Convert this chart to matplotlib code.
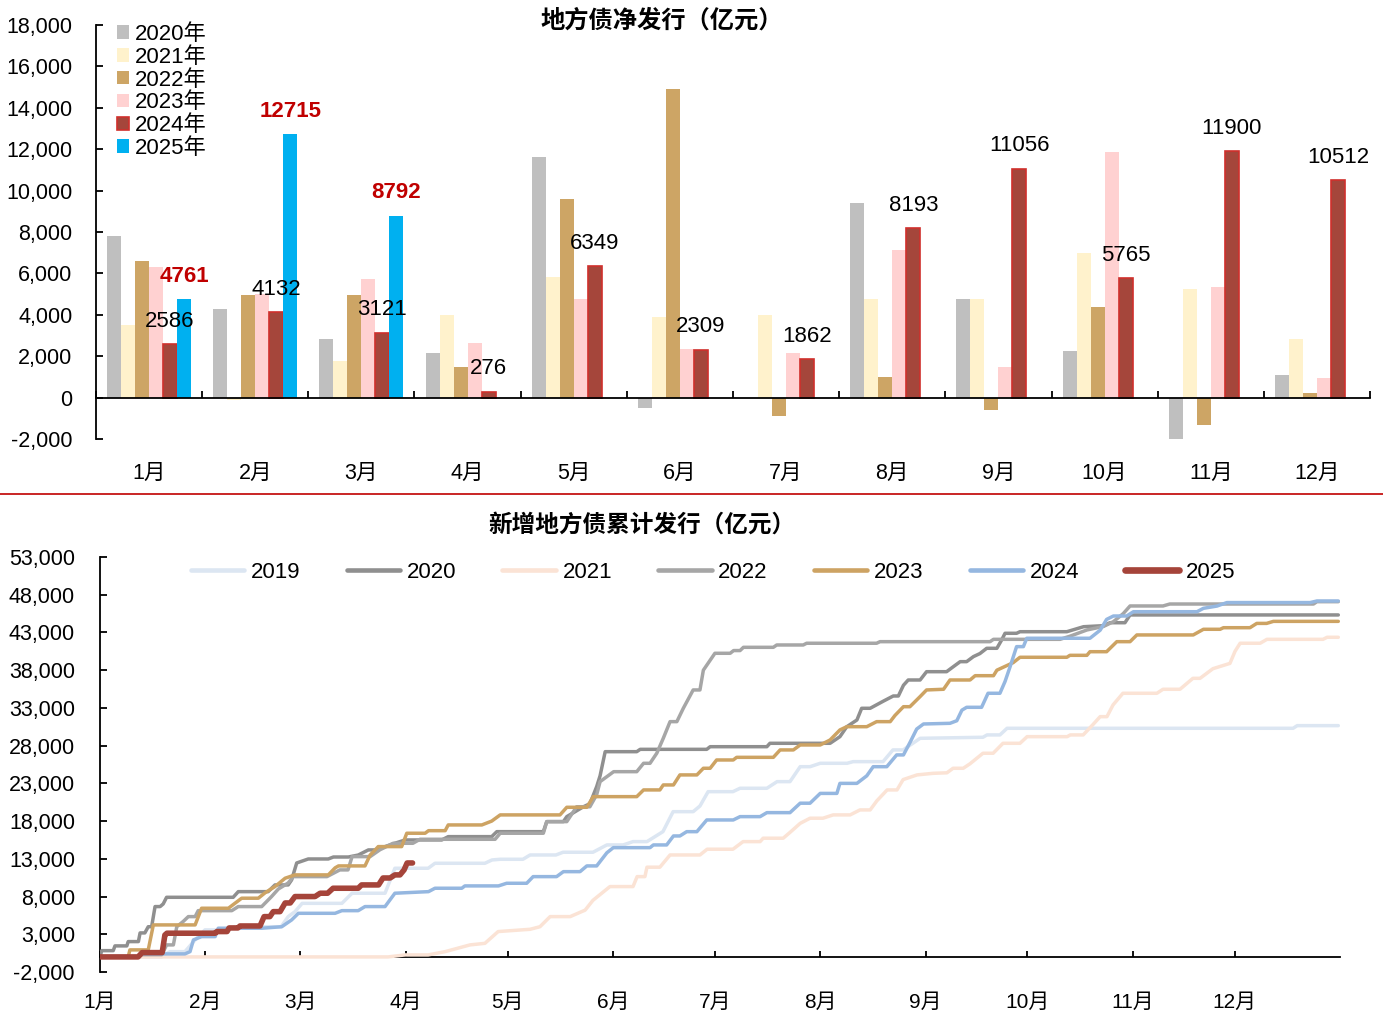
import numpy as np
import matplotlib.pyplot as plt
from matplotlib.ticker import FuncFormatter
from matplotlib.lines import Line2D

plt.rcParams['font.family'] = ['Liberation Sans', 'Noto Sans CJK SC']
plt.rcParams['axes.unicode_minus'] = False

# ---- данные: верхний график (чистый выпуск) ----
months = ['1月', '2月', '3月', '4月', '5月', '6月', '7月', '8月', '9月', '10月', '11月', '12月']
bar_2020 = [7800, 4300, 2850, 2170, 11640, -480, 0, 9420, 4780, 2270, -2050, 1110]
bar_2021 = [3530, -100, 1790, 4010, 5850, 3910, 4010, 4780, 4780, 7000, 5270, 2850]
bar_2022 = [6620, 4980, 4980, 1500, 9610, 14930, -870, 1010, -580, 4400, -1300, 240]
bar_2023 = [6330, 5000, 5750, 2660, 4780, 2370, 2170, 7150, 1500, 11880, 5360, 970]
bar_2024 = [2586, 4132, 3121, 276, 6349, 2309, 1862, 8193, 11056, 5765, 11900, 10512]
bar_2025 = [4761, 12715, 8792]

# ---- данные: нижний график (накопленный выпуск), (день года, значение) ----
pts_2019 = [(0, 0), (18.2, 0), (19.1, 300), (20.6, 700), (25, 700), (28, 2250), (30.9, 3580), (37.7, 3580),
            (39.7, 4000), (53.3, 4000), (55.4, 5340), (57.4, 6000), (59.5, 7100), (71.2, 7100), (74.2, 8440),
            (83.9, 8440), (86.8, 11750), (96.6, 11750), (98.6, 12410), (113.3, 12410), (115.4, 12850),
            (117.8, 12940), (124.5, 12940), (126.6, 13510), (134.2, 13510), (136.3, 13870), (145.1, 13870),
            (149.2, 14840), (154, 14840), (156.9, 15280), (161, 15280), (165.7, 16600), (168.7, 19250),
            (174.6, 19250), (176.6, 20000), (179, 21900), (186.3, 21900), (188.4, 22350), (196.3, 22350),
            (199.3, 23230), (203.1, 23230), (206.1, 25210), (209, 25210), (212, 25660), (219.9, 25660),
            (221.7, 25880), (230.5, 25880), (233.4, 27430), (236.4, 27430), (241.4, 28970), (259.9, 29110),
            (261.1, 29420), (264.9, 29420), (267, 30300), (351.2, 30300), (352.4, 30650), (364.5, 30650)]
pts_2020 = [(0, 0), (0.5, 830), (3.9, 830), (4.4, 1460), (7.9, 1460), (8.3, 2030), (11.3, 2030), (11.8, 3180),
            (13.2, 3180), (14.2, 4000), (15.2, 4000), (16.2, 6670), (17.7, 6670), (18.6, 7020), (19.6, 7900),
            (39.2, 7900), (40.7, 8650), (49.5, 8650), (51.5, 9540), (55.4, 9540), (56.4, 10200), (57.9, 12450),
            (61.3, 12980), (67.2, 12980), (68.7, 13240), (73.1, 13240), (76, 13500), (79, 14180), (81, 14180),
            (86.8, 15060), (89.8, 15500), (100.6, 15500), (102.5, 15940), (115.3, 15940), (116.8, 16600),
            (130.5, 16600), (131.5, 17930), (136.4, 17930), (137.4, 18590), (142.3, 19900), (144.2, 20300),
            (146.2, 22570), (147.2, 24000), (148.7, 27200), (158, 27200), (159, 27510), (178.6, 27510),
            (179.6, 27860), (196.3, 27860), (197.2, 28310), (214.9, 28310), (217.8, 29190), (219.8, 30500),
            (222.8, 31400), (224.2, 32950), (226.7, 32950), (230.6, 33900), (233.5, 34580), (235, 34580),
            (236.5, 36000), (237.9, 36700), (241.4, 36700), (243.3, 37800), (249.2, 37800), (251.2, 38470),
            (253.2, 39130), (255.1, 39130), (257.1, 39800), (259, 40200), (261, 40900), (264, 40900),
            (265.4, 42000), (266.4, 42890), (269.8, 42890), (270.8, 43100), (284.6, 43100), (289.5, 43760),
            (295.4, 43900), (297.3, 44290), (301.7, 44290), (303.2, 45320), (364.5, 45320)]
pts_2021 = [(0, 0), (84.8, 0), (89.8, 265), (96.6, 265), (101.6, 700), (108.9, 1590), (113.3, 1800),
            (117.2, 3360), (126.6, 3660), (129.5, 4000), (132.5, 5340), (138.4, 5340), (142.8, 6200),
            (145.1, 7500), (150.1, 9320), (156.9, 9320), (158.1, 10640), (160.4, 10640), (161, 11890),
            (164.8, 11890), (167.8, 13510), (176.6, 13510), (178.7, 14270), (186.3, 14270), (189.3, 15280),
            (194.3, 15280), (195.2, 15730), (201.1, 15730), (203.1, 16500), (206.1, 17700), (209, 18380),
            (212.8, 18380), (215.8, 18820), (220.8, 18820), (223.7, 19480), (226.7, 19480), (228.7, 20700),
            (231.7, 22130), (234.6, 22130), (236.4, 23500), (240.5, 24120), (245.2, 24330), (249.3, 24400),
            (251.1, 25000), (254.1, 25000), (256.1, 25600), (259.9, 26990), (262.9, 26990), (265.8, 28310),
            (270.8, 28310), (272.9, 29190), (284.7, 29190), (285.6, 29420), (289.4, 29420), (292.3, 30800),
            (294.4, 31840), (296.4, 31840), (298.2, 33400), (301.1, 34940), (311.1, 34940), (312.9, 35470),
            (317.9, 35470), (321.7, 36920), (323.8, 36920), (327.6, 38200), (332.6, 38900), (334.1, 40500),
            (335.6, 41570), (341.5, 41570), (343.5, 42090), (360, 42090), (361.2, 42360), (364.5, 42360)]
pts_2022 = [(0, 0), (11.3, 0), (12.3, 300), (18.2, 300), (19.6, 1590), (21.6, 1590), (22.6, 4000),
            (24.5, 4700), (26, 5340), (28, 5340), (28.9, 6130), (38.8, 6130), (40.7, 6670), (47.6, 6670),
            (50.5, 8000), (52.5, 9000), (55.4, 9800), (56.9, 10640), (66.8, 10640), (70.6, 11530), (73, 11530),
            (74.2, 13290), (79.5, 13290), (82.4, 14200), (86.3, 15060), (92.1, 15060), (94.2, 15590),
            (116.3, 15590), (117.8, 16390), (130.5, 16390), (131.5, 17930), (137.4, 17930), (140.3, 19900),
            (144.2, 19900), (146.2, 21500), (147.2, 23230), (151.2, 24550), (158, 24550), (160, 25660),
            (161.9, 25660), (163.9, 27000), (165.8, 28970), (167.8, 31180), (169.8, 31180), (171.7, 32950),
            (174.6, 35380), (176.6, 35380), (177.6, 38000), (181, 40240), (185.5, 40240), (186.5, 40600),
            (188.4, 40600), (189.4, 41030), (198.2, 41030), (199.2, 41340), (207, 41340), (208, 41570),
            (228.6, 41570), (229.6, 41780), (262, 41780), (263, 42090), (282.6, 42090), (285.5, 42500),
            (290.5, 43330), (295.4, 43800), (298.3, 44430), (301.2, 45500), (303.2, 46510), (312.9, 46510),
            (314.9, 46770), (357.2, 46770), (358.2, 47080), (364.5, 47080)]
pts_2023 = [(0, 0), (8.3, 0), (8.8, 930), (14.2, 930), (15.7, 4240), (28, 4240), (29.9, 6450), (37.8, 6450),
            (39.7, 7100), (41.7, 7780), (46.6, 7780), (48.6, 8500), (51.5, 9320), (54.5, 10430), (57.4, 10870),
            (67.2, 10870), (69.2, 11800), (70.2, 12060), (78, 12060), (79.5, 13500), (81, 14180), (81.9, 14620),
            (88.8, 14620), (90.3, 16390), (95.7, 16390), (96.7, 16730), (101.6, 16730), (102.5, 17490),
            (112.4, 17490), (115.3, 18000), (117.8, 18820), (135.4, 18820), (137.4, 19830), (143.3, 19830),
            (145.2, 21240), (158, 21240), (160, 22130), (164.8, 22130), (165.8, 22790), (168.8, 22790),
            (170.7, 24120), (175.7, 24120), (177.6, 25000), (179.6, 25000), (181.5, 26100), (186.4, 26100),
            (187.4, 26450), (198.2, 26450), (200.2, 27430), (204.1, 27430), (206.1, 28090), (212, 28090),
            (214.9, 28750), (217.8, 30080), (219.8, 30510), (225.7, 30510), (228.6, 31180), (232.6, 31180),
            (234, 32000), (236.5, 33160), (238.4, 33160), (241.4, 34500), (243.3, 35380), (248.3, 35470),
            (250.2, 36700), (256.1, 36700), (257.6, 37270), (263, 37270), (264, 38000), (268.8, 39000),
            (270.8, 39710), (284.6, 39710), (285.5, 39970), (290.5, 39970), (291.4, 40450), (296.3, 40450),
            (299.3, 41780), (303.2, 41780), (305.2, 42670), (321.8, 42670), (324.8, 43420), (329.7, 43420),
            (330.7, 43630), (338.5, 43630), (340.5, 44200), (343.4, 44200), (345.4, 44470), (364.5, 44470)]
pts_2024 = [(0, 0), (11.3, 0), (12.3, 400), (25, 400), (26.5, 700), (27.5, 2250), (29.9, 2690), (33.9, 2690),
            (34.8, 3800), (47.6, 3800), (53.5, 4000), (56.4, 4900), (58.4, 5780), (69.2, 5780), (71.2, 6130),
            (76, 6130), (78, 6670), (83.9, 6670), (86.8, 8440), (96.7, 8650), (98.6, 9100), (106.5, 9100),
            (107.4, 9410), (117.3, 9410), (119.7, 9760), (125.6, 9760), (127.5, 10640), (134.4, 10640),
            (136.4, 11300), (141.3, 11300), (143.3, 12060), (146.2, 12060), (149.2, 13800), (151.1, 14480),
            (161.9, 14480), (162.9, 14840), (166.8, 14840), (168.8, 16030), (170.7, 16030), (172.7, 16600),
            (175.7, 16600), (178.6, 18150), (186.4, 18150), (188.4, 18590), (194.3, 18590), (196.3, 19120),
            (203.1, 19120), (206.1, 20370), (209, 20370), (212, 21670), (216.9, 21670), (217.8, 23000),
            (222.8, 23000), (225.7, 24000), (227.6, 25210), (231.6, 25210), (234.5, 26770), (236.5, 26770),
            (238.4, 28400), (240.4, 30200), (242.4, 30870), (250.2, 30960), (252.2, 31300), (253.7, 32700),
            (255.1, 33080), (259.5, 33080), (261.4, 34940), (264.9, 34940), (266.4, 36500), (267.9, 38470),
            (269.8, 41120), (271.8, 41120), (272.8, 42230), (291.4, 42230), (294.4, 43300), (296.3, 44730),
            (298.3, 45180), (302.2, 45180), (304.2, 45750), (322.9, 45750), (324.8, 46200), (328.8, 46500),
            (331.7, 46960), (356.2, 46960), (358.2, 47170), (364.5, 47170)]
pts_2025 = [(0, 0), (11.2, 0), (12.4, 570), (18.3, 570), (19.1, 2900), (19.7, 3140), (33.9, 3140),
            (34.4, 3360), (37.4, 3360), (38, 3840), (40.6, 3840), (41.2, 4100), (47.1, 4100), (48.3, 5340),
            (50, 5340), (51, 6000), (53, 6000), (54.5, 7150), (56, 7150), (57.4, 8000), (63.3, 8000),
            (64.8, 8440), (67, 8440), (68.6, 9100), (76, 9100), (77, 9540), (82, 9540), (83.3, 10460),
            (85.4, 10460), (86.8, 10870), (88.3, 10870), (89.5, 11530), (90.4, 12450), (92, 12450)]
month_start = [0, 31, 59, 90, 120, 151, 181, 212, 243, 273, 304, 334]

bar_colors = ['#BFBFBF', '#FFF2CC', '#CDA565', '#FFD1D1', '#A5463B', '#00B0F0']
line_styles = [('2019', pts_2019, '#DCE6F2', 2.5), ('2020', pts_2020, '#8F8F8F', 2.5),
               ('2021', pts_2021, '#FBE3D5', 2.5), ('2022', pts_2022, '#A6A6A6', 2.5),
               ('2023', pts_2023, '#CDA363', 2.5), ('2024', pts_2024, '#95B7E0', 2.5),
               ('2025', pts_2025, '#A5443A', 4.0)]

fmt = FuncFormatter(lambda v, p: f'{v:,.0f}')

fig = plt.figure(figsize=(13.83, 10.11), dpi=100)

# -------- верхний график: столбцы --------
ax1 = fig.add_axes([96 / 1383, 1 - 439 / 1011, 1274 / 1383, 414 / 1011])
x = np.arange(12)
w = 0.132
bars = [bar_2020, bar_2021, bar_2022, bar_2023, bar_2024]
for i, vals in enumerate(bars):
    lab = f'{2020 + i}年'
    if i == 4:
        ax1.bar(x + (i - 2.5) * w, vals, w, color=bar_colors[i], edgecolor='#D0302C', linewidth=1.2,
                label=lab, zorder=2)
    else:
        ax1.bar(x + (i - 2.5) * w, vals, w, color=bar_colors[i], label=lab, zorder=2)
ax1.bar(x[:3] + 2.5 * w, bar_2025, w, color=bar_colors[5], label='2025年', zorder=2)

for xi, v in zip(x, bar_2024):
    ax1.annotate(str(v), (xi + 1.5 * w, v), xytext=(0, 23), textcoords='offset pixels',
                 ha='center', va='center', fontsize=16, color='black')
for xi, v in zip(x[:3], bar_2025):
    ax1.annotate(str(v), (xi + 2.5 * w, v), xytext=(0, 23), textcoords='offset pixels',
                 ha='center', va='center', fontsize=16, color='#C00000', fontweight='bold')

ax1.set_xlim(-0.5, 11.5)
ax1.set_ylim(-2000, 18000)
ax1.spines['top'].set_visible(False)
ax1.spines['right'].set_visible(False)
ax1.spines['bottom'].set_position(('data', 0))
for s in ['left', 'bottom']:
    ax1.spines[s].set_linewidth(1.3)
    ax1.spines[s].set_zorder(3)
ax1.set_yticks(range(-2000, 18001, 2000))
ax1.yaxis.set_major_formatter(fmt)
ax1.tick_params(axis='y', direction='in', length=5, width=1.3, labelsize=15.5, pad=17)
ax1.set_xticks(np.arange(-0.5, 12, 1))
ax1.set_xticks(x, minor=True)
ax1.set_xticklabels(months, minor=True)
ax1.tick_params(axis='x', which='major', direction='in', length=5, width=1.3, labelbottom=False)
ax1.tick_params(axis='x', which='minor', length=0, pad=47, labelsize=15.5)
ax1.legend(loc='upper left', bbox_to_anchor=(117 / 1383, 1 - 24 / 1011), bbox_transform=fig.transFigure,
           frameon=False, fontsize=16, handlelength=0.55, handleheight=0.55, handletextpad=0.25,
           labelspacing=0.08, borderpad=0, borderaxespad=0)

fig.text(662 / 1383, 1 - 21 / 1011, '地方债净发行（亿元）', ha='center', va='center',
         fontsize=17.5, fontweight='bold')

# разделительная линия
fig.add_artist(Line2D([0, 1], [1 - 494 / 1011, 1 - 494 / 1011], color='#C00000', lw=1.2,
                      transform=fig.transFigure))

# -------- нижний график: накопленный выпуск --------
ax2 = fig.add_axes([100 / 1383, 1 - 972 / 1011, 1240 / 1383, 415 / 1011])
for name, pts, col, lw in line_styles:
    d = np.array(pts)
    ax2.plot(d[:, 0], d[:, 1], color=col, lw=lw, label=name, solid_joinstyle='round',
             solid_capstyle='round', zorder=4)

ax2.set_xlim(0, 365)
ax2.set_ylim(-2000, 53000)
ax2.spines['top'].set_visible(False)
ax2.spines['right'].set_visible(False)
ax2.spines['bottom'].set_position(('data', 0))
for s in ['left', 'bottom']:
    ax2.spines[s].set_linewidth(1.3)
ax2.set_yticks(range(-2000, 53001, 5000))
ax2.yaxis.set_major_formatter(fmt)
ax2.tick_params(axis='y', direction='in', length=5, width=1.3, labelsize=15.5, pad=18)
ax2.set_xticks(month_start)
ax2.set_xticklabels(months)
ax2.tick_params(axis='x', direction='in', length=4, width=1.3, labelsize=15, pad=26)
leg = ax2.legend(loc='center', bbox_to_anchor=(713 / 1383, 1 - 572 / 1011), bbox_transform=fig.transFigure,
                 ncol=7, frameon=False, fontsize=16, handlelength=2.4, handletextpad=0.3,
                 columnspacing=2.08, borderpad=0, borderaxespad=0)
for h in leg.legend_handles:
    h.set_linewidth(h.get_linewidth() + 0.8)

fig.text(642 / 1383, 1 - 525 / 1011, '新增地方债累计发行（亿元）', ha='center', va='center',
         fontsize=17, fontweight='bold')

fig.savefig('out.png', dpi=100)
